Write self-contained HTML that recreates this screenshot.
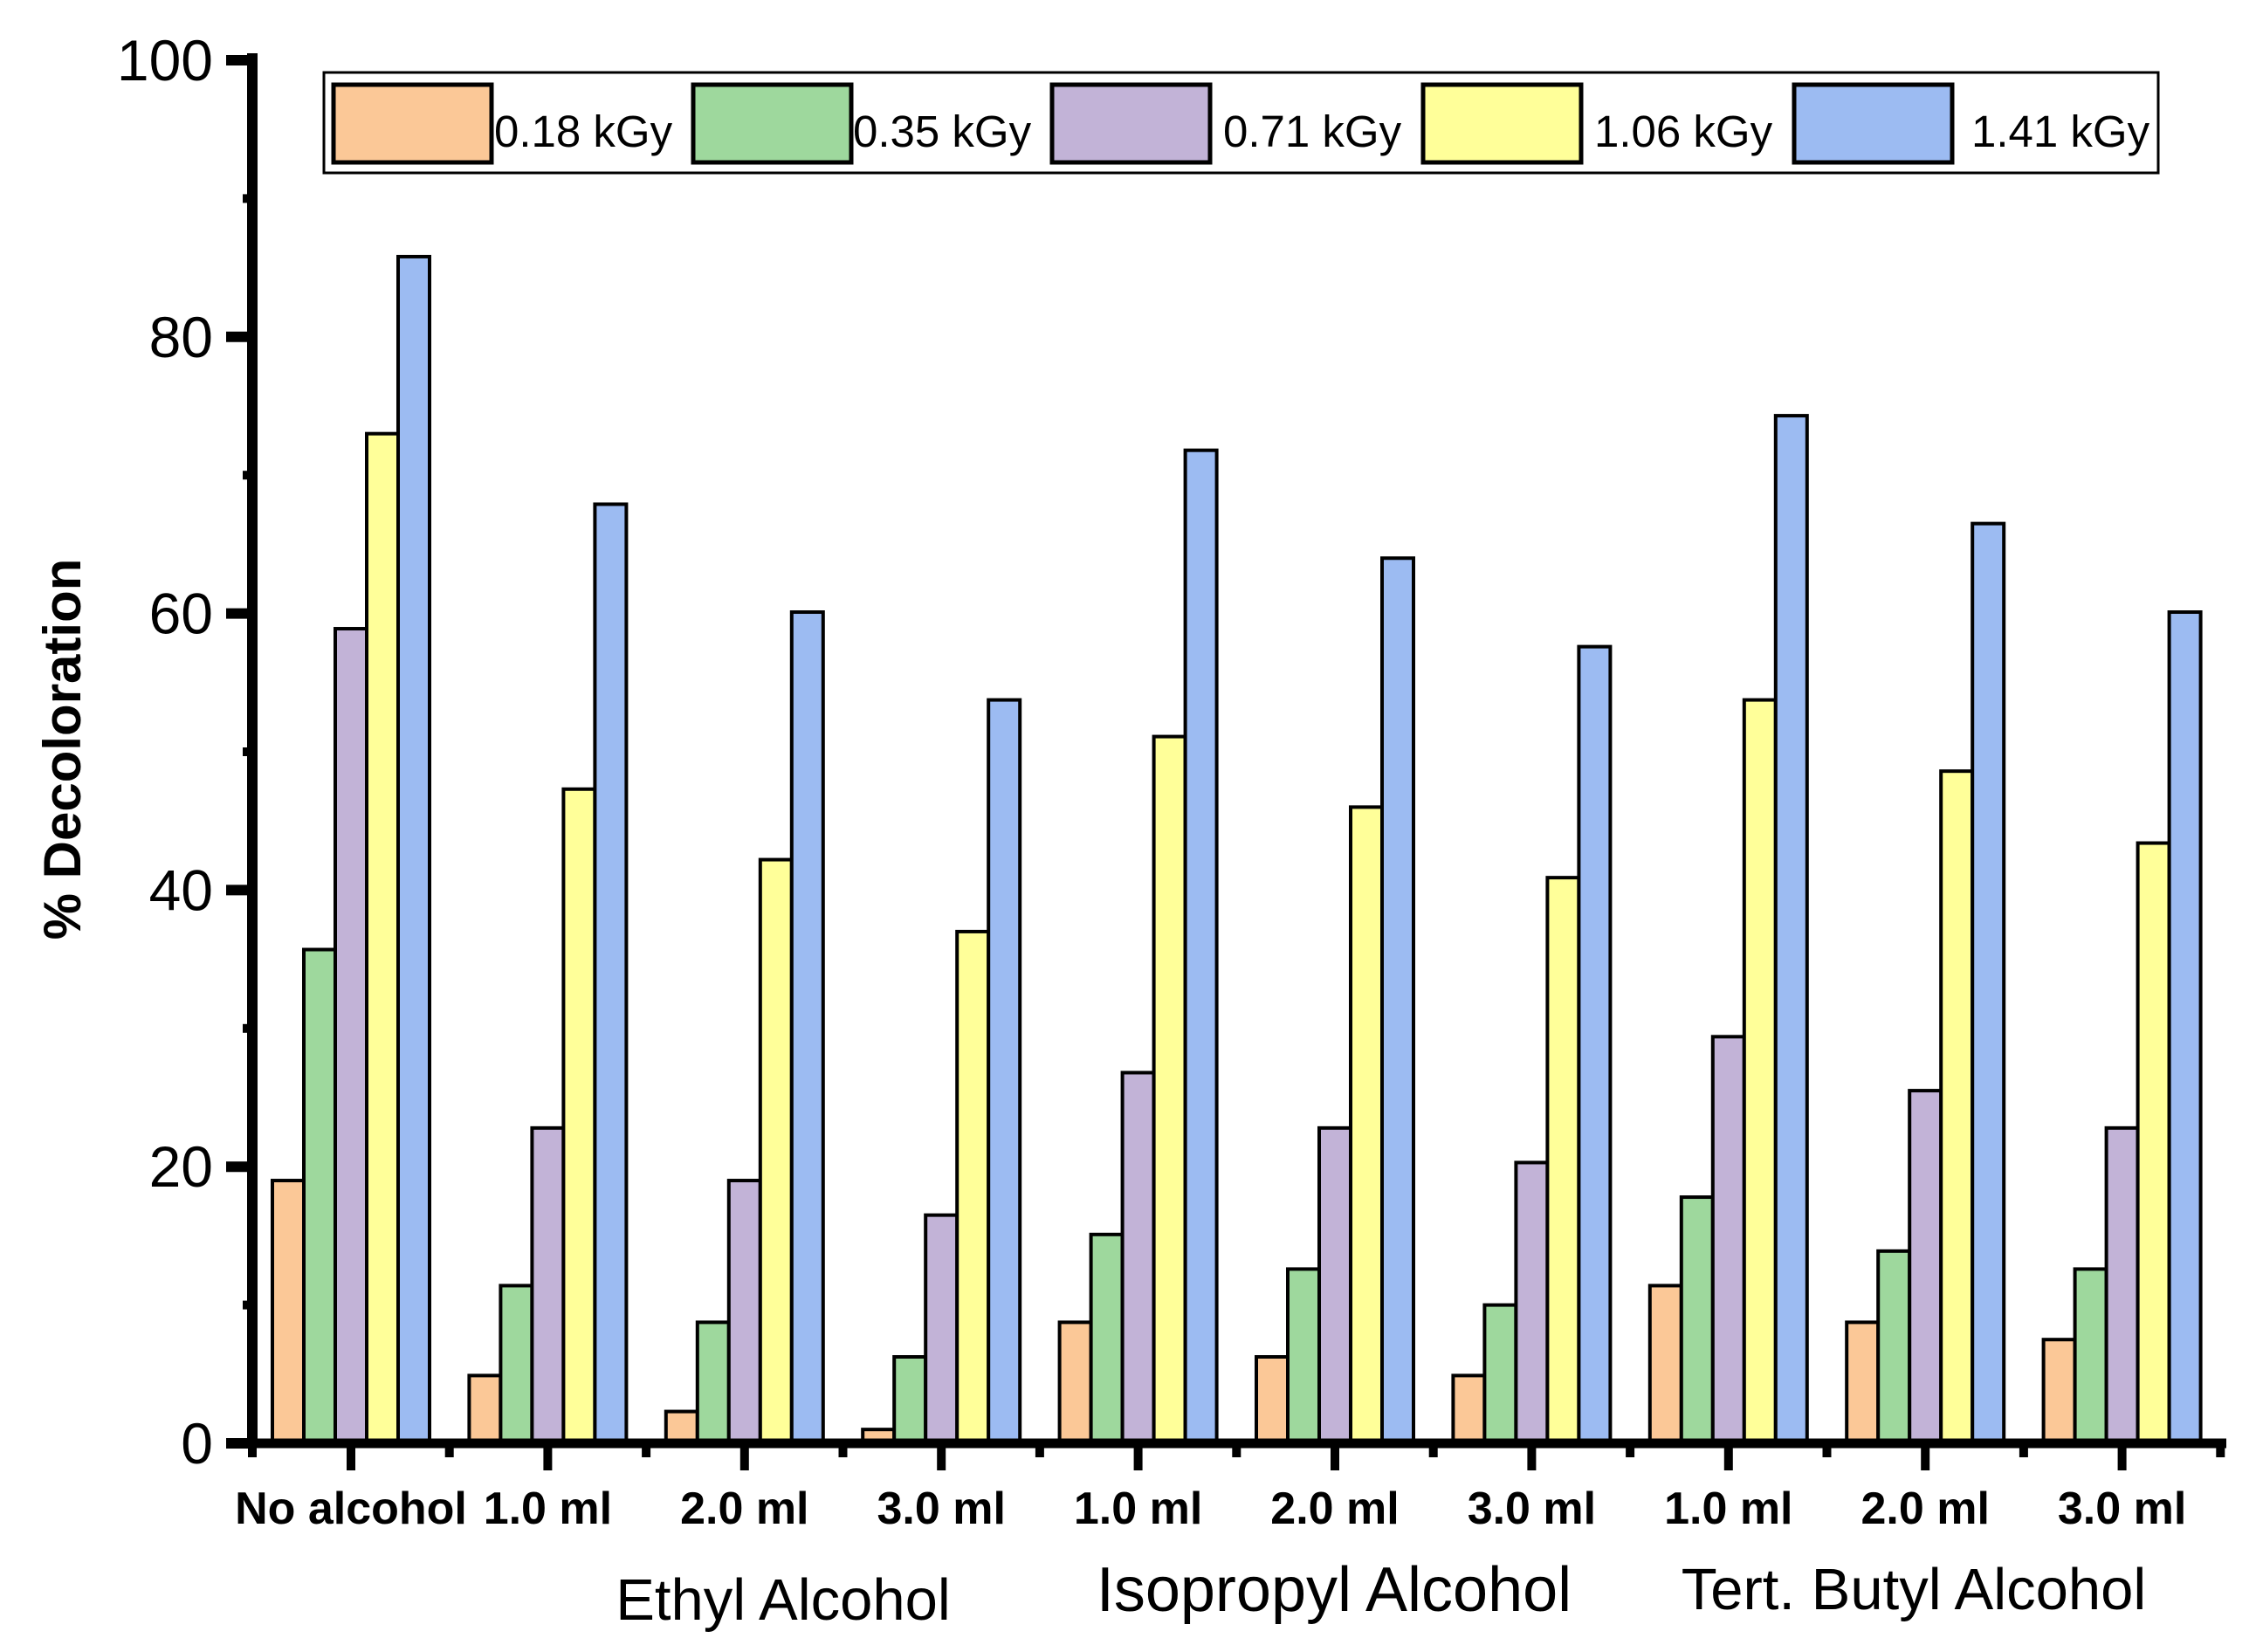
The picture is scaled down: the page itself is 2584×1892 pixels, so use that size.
<!DOCTYPE html>
<html><head><meta charset="utf-8"><style>
html,body{margin:0;padding:0;background:#fff;}
svg{display:block;font-family:"Liberation Sans",Arial,sans-serif;}
</style></head><body>
<svg id="chart" width="2584" height="1892" viewBox="0 0 2584 1892">
<g id="bars"></g>
<g id="axes"></g>
<g id="legend"></g>
<text x="0" y="0" transform="translate(92,858) rotate(-90)" text-anchor="middle" font-size="60" font-weight="bold">% Decoloration</text>
<text x="897" y="1855" text-anchor="middle" font-size="67">Ethyl Alcohol</text>
<text x="1528" y="1845" text-anchor="middle" font-size="72">Isopropyl Alcohol</text>
<text x="2192" y="1843" text-anchor="middle" font-size="67">Tert. Butyl Alcohol</text>
</svg>
<script>
const categories = ["No alcohol","1.0 ml","2.0 ml","3.0 ml","1.0 ml","2.0 ml","3.0 ml","1.0 ml","2.0 ml","3.0 ml"];
const seriesNames = ["0.18 kGy","0.35 kGy","0.71 kGy","1.06 kGy","1.41 kGy"];
const s018 = [19, 4.9, 2.3, 1.0, 8.75, 6.25, 4.9, 11.4, 8.75, 7.5];
const s035 = [35.7, 11.4, 8.75, 6.25, 15.1, 12.6, 10, 17.8, 13.9, 12.6];
const s071 = [58.9, 22.8, 19, 16.5, 26.8, 22.8, 20.3, 29.4, 25.5, 22.8];
const s106 = [73, 47.3, 42.2, 37, 51.1, 46, 40.9, 53.75, 48.6, 43.4];
const s141 = [85.8, 67.9, 60.1, 53.75, 71.8, 64, 57.6, 74.3, 66.5, 60.1];
const yTicks = [0, 20, 40, 60, 80, 100];

const series = [s018, s035, s071, s106, s141];
const colors = ["#FBC897","#9ED89D","#C2B3D7","#FFFF99","#9CBBF2"];
const NS = "http://www.w3.org/2000/svg";
const X0 = 289, X1 = 2550, Y0 = 1653, YTOP = 69;
function yScale(v){ return Y0 - (v/100)*(Y0-YTOP); }
const groupW = 225.4, firstC = 402, barW = 36;
function xCenter(i){ return firstC + i*groupW; }
function mk(tag, attrs, parent){ const e=document.createElementNS(NS,tag); for(const k in attrs) e.setAttribute(k,attrs[k]); parent.appendChild(e); return e; }

const bars = document.getElementById('bars');
categories.forEach((c,i)=>{
  series.forEach((s,j)=>{
    const x = xCenter(i) - 2.5*barW + j*barW;
    const y = yScale(s[i]);
    const r = mk('rect',{x:x,y:y,width:barW,height:Y0-y,fill:colors[j],stroke:'#000','stroke-width':4},bars);
    
    
  });
});

const axes = document.getElementById('axes');
const ya = mk('line',{x1:X0,y1:YTOP-8,x2:X0,y2:Y0+5,stroke:'#000','stroke-width':12},axes);


const xa = mk('line',{x1:X0-30,y1:Y0,x2:X1,y2:Y0,stroke:'#000','stroke-width':11},axes);


yTicks.forEach(v=>{
  const y=yScale(v);
  mk('line',{x1:X0-30,y1:y,x2:X0,y2:y,stroke:'#000','stroke-width':12},axes);
  const t = mk('text',{x:X0-45,y:y+23,'text-anchor':'end','font-size':66},axes);
  t.textContent = v;
  
  
  if(v<100){
    const ym=yScale(v+10);
    mk('line',{x1:X0-11,y1:ym,x2:X0,y2:ym,stroke:'#000','stroke-width':10},axes);
  }
});
categories.forEach((c,i)=>{
  const x=xCenter(i);
  mk('line',{x1:x,y1:Y0,x2:x,y2:Y0+31,stroke:'#000','stroke-width':10},axes);
  const xb = x + groupW/2;
  mk('line',{x1:xb,y1:Y0,x2:xb,y2:Y0+16,stroke:'#000','stroke-width':10},axes);
  const t = mk('text',{x:x,y:1745,'text-anchor':'middle','font-size':52,'font-weight':'bold'},axes);
  t.textContent = c;
  
  
});
mk('line',{x1:X0,y1:Y0,x2:X0,y2:Y0+16,stroke:'#000','stroke-width':10},axes);

const legend = document.getElementById('legend');
const box = mk('rect',{x:371,y:83,width:2101,height:115,fill:'#fff',stroke:'#000','stroke-width':3},legend);


const swX = [382, 794, 1205, 1630, 2055];
const lblX = [566, 977, 1401, 1826, 2258];
seriesNames.forEach((n,j)=>{
  const r = mk('rect',{x:swX[j],y:97,width:181,height:89,fill:colors[j],stroke:'#000','stroke-width':5},legend);
  
  
  const t = mk('text',{x:lblX[j],y:168,'font-size':51},legend);
  t.textContent = n;
  
  
});
</script>
</body></html>
